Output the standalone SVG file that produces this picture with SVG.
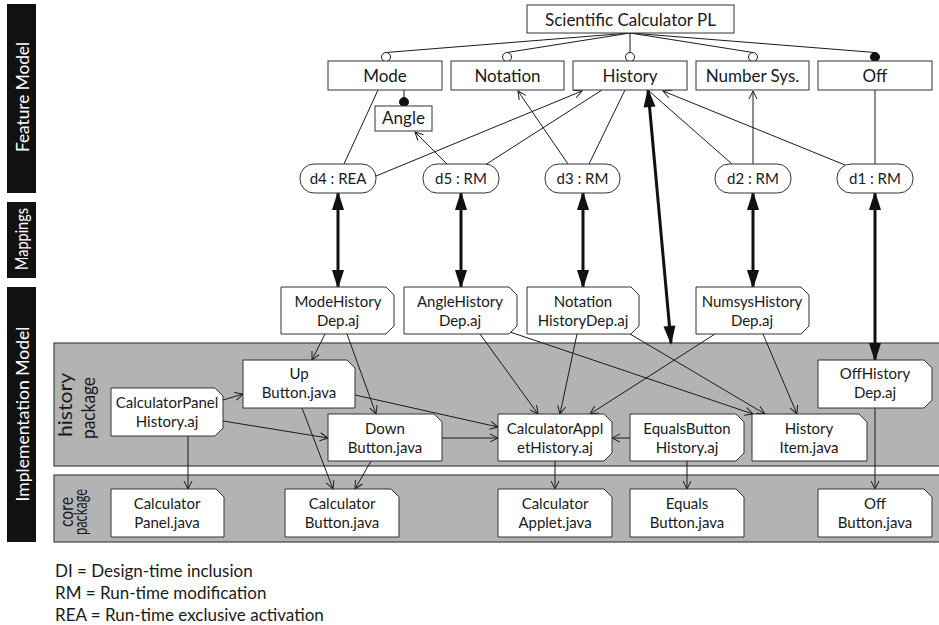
<svg xmlns="http://www.w3.org/2000/svg" width="939" height="625" viewBox="0 0 939 625">
<style>
text{font-family:Lato,"Liberation Sans",sans-serif;fill:#1a1a1a}
.ft{font-size:17px;text-anchor:middle}
.mt{font-size:15px;text-anchor:middle}
.it{font-size:15px;text-anchor:middle}
.lg{font-size:17px}
.side{font-size:17px;fill:#fff;text-anchor:middle}
.pk{font-size:19px;text-anchor:middle}
.box{fill:#fff;stroke:#333;stroke-width:1}
.pkg{fill:#b3b3b3;stroke:#444;stroke-width:1.2}
.bar{fill:#111}
.ln{fill:none;stroke:#1a1a1a;stroke-width:1}
.ar{fill:none;stroke:#1a1a1a;stroke-width:1;marker-end:url(#open)}
.thick{fill:none;stroke:#111;stroke-width:3;marker-start:url(#solid);marker-end:url(#solid)}
.oc{fill:#fff;stroke:#1a1a1a;stroke-width:1}
.fc{fill:#111;stroke:#111;stroke-width:1}
</style>
<defs>
<marker id="open" markerUnits="userSpaceOnUse" markerWidth="10" markerHeight="10" refX="8" refY="4" orient="auto" viewBox="0 0 10 8" overflow="visible">
<path d="M0,0 L8,4 L0,8" fill="none" stroke="#1a1a1a" stroke-width="1"/>
</marker>
<marker id="solid" markerUnits="userSpaceOnUse" markerWidth="19" markerHeight="12" refX="17" refY="6" orient="auto-start-reverse" viewBox="0 0 19 12" overflow="visible">
<path d="M0,0 L19,6 L0,12 Z" fill="#111"/>
</marker>
</defs>

<!-- side bars -->
<g id="side-labels">
<rect class="bar" x="7" y="4" width="29" height="189"/>
<text class="side" transform="translate(29,97) rotate(-90)" textLength="110" lengthAdjust="spacingAndGlyphs">Feature Model</text>
<rect class="bar" x="7" y="202" width="29" height="76"/>
<text class="side" font-size="15" transform="translate(28,239) rotate(-90)" textLength="62" lengthAdjust="spacingAndGlyphs">Mappings</text>
<rect class="bar" x="7" y="287" width="29" height="255"/>
<text class="side" transform="translate(29,414) rotate(-90)" textLength="175" lengthAdjust="spacingAndGlyphs">Implementation Model</text>
</g>

<!-- packages -->
<g id="history-package">
<rect class="pkg" x="54" y="343" width="892" height="123"/>
<text class="pk" transform="translate(72,405) rotate(-90)" textLength="64" lengthAdjust="spacingAndGlyphs">history</text>
<text class="pk" transform="translate(95,408) rotate(-90)" textLength="62" lengthAdjust="spacingAndGlyphs">package</text>
</g>
<g id="core-package">
<rect class="pkg" x="54" y="475" width="892" height="67"/>
<text class="pk" font-size="13" transform="translate(73,512) rotate(-90)" textLength="30" lengthAdjust="spacingAndGlyphs">core</text>
<text class="pk" font-size="11" transform="translate(87,512) rotate(-90)" textLength="46" lengthAdjust="spacingAndGlyphs">package</text>
</g>

<!-- connectors -->
<g id="connectors">
<!-- feature tree -->
<path class="ln" d="M630,33 L386,52.5"/>
<path class="ln" d="M630,33 L507,52.5"/>
<path class="ln" d="M630,33 L630,52.5"/>
<path class="ln" d="M630,33 L753,52.5"/>
<path class="ln" d="M630,33 L875,52.5"/>
<path class="ln" d="M404,90 L404,98"/>
<!-- mapping to features -->
<path class="ln" d="M378,90 L344,164"/>
<path class="ar" d="M376,176 L582,91"/>
<path class="ar" d="M447,164 L415,132"/>
<path class="ln" d="M485,165 L602,90"/>
<path class="ar" d="M568,164 L518,91"/>
<path class="ln" d="M589,164 L625,90"/>
<path class="ln" d="M732,164 L649,91"/>
<path class="ar" d="M753,164 L753,91"/>
<path class="ar" d="M845,165 L663,91"/>
<path class="ln" d="M875,164 L875,90"/>
<!-- thick mapping arrows -->
<path class="thick" d="M338,193 L338,287"/>
<path class="thick" d="M461,193 L461,287"/>
<path class="thick" d="M583,193 L583,287"/>
<path class="thick" d="M753,193 L753,287"/>
<path class="thick" d="M875,193 L875,360"/>
<path class="thick" d="M648,90 L671,343"/>
<!-- implementation -->
<path class="ar" d="M325,334 L312,360"/>
<path class="ar" d="M347,334 L376,414"/>
<path class="ar" d="M480,334 L538,414"/>
<path class="ar" d="M510,332 L753,414"/>
<path class="ar" d="M577,334 L560,414"/>
<path class="ar" d="M630,334 L765,414"/>
<path class="ar" d="M715,334 L590,414"/>
<path class="ar" d="M763,334 L797,414"/>
<path class="ar" d="M223,400 L243,394"/>
<path class="ar" d="M223,421 L328,438"/>
<path class="ar" d="M188,436 L188,489"/>
<path class="ar" d="M302,408 L333,489"/>
<path class="ar" d="M355,395 L498,427"/>
<path class="ar" d="M442,438 L498,438"/>
<path class="ar" d="M371,461 L355,489"/>
<path class="ar" d="M555,461 L555,489"/>
<path class="ar" d="M630,438 L612,438"/>
<path class="ar" d="M687,461 L687,489"/>
<path class="ar" d="M875,408 L875,489"/>
<!-- group circles -->
<circle class="oc" cx="386" cy="57" r="4.5"/>
<circle class="oc" cx="507" cy="57" r="4.5"/>
<circle class="oc" cx="630" cy="57" r="4.5"/>
<circle class="oc" cx="753" cy="57" r="4.5"/>
<circle class="fc" cx="875" cy="57" r="4.5"/>
<circle class="fc" cx="404" cy="102" r="4.5"/>
</g>

<!-- feature nodes -->
<g id="root"><rect class="box" x="527" y="5" width="207" height="28"/><text class="ft" x="630.5" y="26">Scientific Calculator PL</text></g>
<g id="mode"><rect class="box" x="328" y="61" width="114" height="29"/><text class="ft" x="385" y="82">Mode</text></g>
<g id="notation"><rect class="box" x="451" y="61" width="113" height="29"/><text class="ft" x="507.5" y="82">Notation</text></g>
<g id="history"><rect class="box" x="573" y="61" width="114" height="29"/><text class="ft" x="630" y="82">History</text></g>
<g id="numbersys"><rect class="box" x="696" y="61" width="113" height="29"/><text class="ft" x="752.5" y="82">Number Sys.</text></g>
<g id="off"><rect class="box" x="818" y="61" width="114" height="29"/><text class="ft" x="875" y="82">Off</text></g>
<g id="angle"><rect class="box" x="375" y="106" width="57" height="25"/><text class="ft" x="403.5" y="124">Angle</text></g>

<!-- mapping nodes -->
<g id="d4"><rect class="box" x="300" y="164" width="76" height="29" rx="14" ry="14"/><text class="mt" x="338" y="184">d4 : REA</text></g>
<g id="d5"><rect class="box" x="423" y="164" width="76" height="29" rx="14" ry="14"/><text class="mt" x="461" y="184">d5 : RM</text></g>
<g id="d3"><rect class="box" x="545" y="164" width="75" height="29" rx="14" ry="14"/><text class="mt" x="582.5" y="184">d3 : RM</text></g>
<g id="d2"><rect class="box" x="715" y="164" width="76" height="29" rx="14" ry="14"/><text class="mt" x="753" y="184">d2 : RM</text></g>
<g id="d1"><rect class="box" x="837" y="164" width="76" height="29" rx="14" ry="14"/><text class="mt" x="875" y="184">d1 : RM</text></g>

<!-- implementation nodes (.aj: both right corners cut; .java: top-right cut) -->
<g id="modehistorydep"><path class="box" d="M281,287 H386 L394,295 V326 L386,334 H281 Z"/><text class="it" x="338" y="307">ModeHistory</text><text class="it" x="338" y="326">Dep.aj</text></g>
<g id="anglehistorydep"><path class="box" d="M404,287 H509 L517,295 V326 L509,334 H404 Z"/><text class="it" x="460" y="307">AngleHistory</text><text class="it" x="460" y="326">Dep.aj</text></g>
<g id="notationhistorydep"><path class="box" d="M527,287 H631 L639,295 V326 L631,334 H527 Z"/><text class="it" x="583" y="307">Notation</text><text class="it" x="583" y="326">HistoryDep.aj</text></g>
<g id="numsyshistorydep"><path class="box" d="M696,287 H801 L809,295 V326 L801,334 H696 Z"/><text class="it" x="752" y="307">NumsysHistory</text><text class="it" x="752" y="326">Dep.aj</text></g>

<g id="upbutton"><path class="box" d="M243,360 H347 L355,368 V408 H243 Z"/><text class="it" x="299" y="379">Up</text><text class="it" x="299" y="398">Button.java</text></g>
<g id="calculatorpanelhistory"><path class="box" d="M111,388 H215 L223,396 V428 L215,436 H111 Z"/><text class="it" x="167" y="408">CalculatorPanel</text><text class="it" x="167" y="427">History.aj</text></g>
<g id="downbutton"><path class="box" d="M328,414 H434 L442,422 V461 H328 Z"/><text class="it" x="385" y="434">Down</text><text class="it" x="385" y="453">Button.java</text></g>
<g id="calculatorapplethistory"><path class="box" d="M498,414 H604 L612,422 V453 L604,461 H498 Z"/><text class="it" x="555" y="434">CalculatorAppl</text><text class="it" x="555" y="453">etHistory.aj</text></g>
<g id="equalsbuttonhistory"><path class="box" d="M630,414 H736 L744,422 V453 L736,461 H630 Z"/><text class="it" x="687" y="434">EqualsButton</text><text class="it" x="687" y="453">History.aj</text></g>
<g id="historyitem"><path class="box" d="M752,414 H859 L867,422 V461 H752 Z"/><text class="it" x="809" y="434">History</text><text class="it" x="809" y="453">Item.java</text></g>
<g id="offhistorydep"><path class="box" d="M818,360 H924 L932,368 V400 L924,408 H818 Z"/><text class="it" x="875" y="379">OffHistory</text><text class="it" x="875" y="398">Dep.aj</text></g>

<g id="calculatorpanel"><path class="box" d="M111,489 H216 L224,497 V537 H111 Z"/><text class="it" x="167" y="509">Calculator</text><text class="it" x="167" y="528">Panel.java</text></g>
<g id="calculatorbutton"><path class="box" d="M285,489 H391 L399,497 V537 H285 Z"/><text class="it" x="342" y="509">Calculator</text><text class="it" x="342" y="528">Button.java</text></g>
<g id="calculatorapplet"><path class="box" d="M498,489 H604 L612,497 V537 H498 Z"/><text class="it" x="555" y="509">Calculator</text><text class="it" x="555" y="528">Applet.java</text></g>
<g id="equalsbutton"><path class="box" d="M630,489 H736 L744,497 V537 H630 Z"/><text class="it" x="687" y="509">Equals</text><text class="it" x="687" y="528">Button.java</text></g>
<g id="offbutton"><path class="box" d="M818,489 H924 L932,497 V537 H818 Z"/><text class="it" x="875" y="509">Off</text><text class="it" x="875" y="528">Button.java</text></g>

<!-- legend -->
<g id="legend">
<text class="lg" x="55" y="577">DI = Design-time inclusion</text>
<text class="lg" x="55" y="599">RM = Run-time modification</text>
<text class="lg" x="55" y="621">REA = Run-time exclusive activation</text>
</g>
</svg>
